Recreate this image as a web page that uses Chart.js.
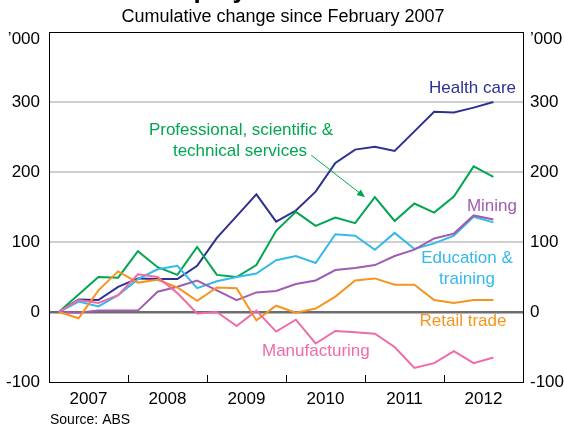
<!DOCTYPE html>
<html>
<head>
<meta charset="utf-8">
<script src="https://cdn.jsdelivr.net/npm/chart.js@4.4.0/dist/chart.umd.min.js"></script>
<style>
  html, body { margin: 0; padding: 0; background: #fff; }
  #wrap { width: 564px; height: 430px; position: relative; }
</style>
</head>
<body>
<div id="wrap"><canvas id="chart"></canvas></div>
<script>
// quarterly observations, Feb 2007 - Aug 2012 ('000, change since Feb 2007)
const dates = [
    'Feb-07', 'May-07', 'Aug-07', 'Nov-07',
    'Feb-08', 'May-08', 'Aug-08', 'Nov-08',
    'Feb-09', 'May-09', 'Aug-09', 'Nov-09',
    'Feb-10', 'May-10', 'Aug-10', 'Nov-10',
    'Feb-11', 'May-11', 'Aug-11', 'Nov-11',
    'Feb-12', 'May-12', 'Aug-12',
];
const years = [2007, 2008, 2009, 2010, 2011, 2012];
const yTicks = [-100, 0, 100, 200, 300];

const healthCare = [0, 18, 17, 36, 48, 47, 47, 66, 106, 137, 168, 129, 145, 172, 213, 232, 236, 230, 258, 286, 285, 292, 300];
const professional = [0, 25, 50, 49, 87, 64, 53, 93, 53, 50, 67, 116, 143, 123, 135, 127, 164, 130, 155, 142, 165, 208, 193];
const mining = [0, -1, 2, 2, 2, 29, 36, 45, 31, 17, 28, 30, 40, 45, 60, 63, 67, 80, 89, 105, 112, 138, 132];
const education = [0, 15, 8, 24, 47, 61, 66, 34, 44, 50, 55, 74, 80, 70, 111, 109, 89, 113, 90, 98, 109, 136, 128];
const retail = [0, -9, 31, 58, 42, 46, 35, 16, 35, 34, -12, 9, -1, 5, 22, 45, 48, 39, 39, 17, 13, 17, 17];
const manufacturing = [0, 17, 13, 24, 54, 50, 27, -2, 0, -20, 2, -28, -11, -45, -27, -29, -31, -50, -80, -73, -56, -73, -65];

const months = ['Jan', 'Feb', 'Mar', 'Apr', 'May', 'Jun', 'Jul', 'Aug', 'Sep', 'Oct', 'Nov', 'Dec'];
function toYear(label) {
    const [m, y] = label.split('-');
    return 2000 + Number(y) + (months.indexOf(m) + 0.5) / 12;
}
const xs = dates.map(toYear);
const pts = arr => arr.map((v, i) => ({ x: xs[i], y: v }));

const FONT = '"Liberation Sans", Arial, sans-serif';
const colors = {
    health: '#2e3192',
    prof: '#00a651',
    mining: '#a05cb0',
    edu: '#33b9ea',
    retail: '#f7941d',
    manuf: '#f06aaa',
};

const annotations = {
    id: 'annotations',
    afterDraw(chart) {
        const ctx = chart.ctx;
        const x = chart.scales.x;
        const y = chart.scales.y;
        const area = chart.chartArea;
        ctx.save();

        // year tick marks on the bottom axis, pointing inward
        ctx.strokeStyle = '#000';
        ctx.lineWidth = 1;
        years.slice(1).forEach(yr => {
            const px = Math.round(x.getPixelForValue(yr)) + 0.5;
            ctx.beginPath();
            ctx.moveTo(px, area.bottom);
            ctx.lineTo(px, area.bottom - 7);
            ctx.stroke();
        });

        // title (cut off at the top) and subtitle
        ctx.fillStyle = '#000';
        ctx.textBaseline = 'alphabetic';
        ctx.textAlign = 'left';
        ctx.font = 'bold 26px ' + FONT;
        ctx.fillText('Employment Growth', 153, -2);
        ctx.textAlign = 'center';
        ctx.textBaseline = 'middle';
        ctx.font = '18px ' + FONT;
        ctx.fillText('Cumulative change since February 2007', 283, 17);

        ctx.font = '17px ' + FONT;
        ctx.textAlign = 'right';
        ctx.fillText('\u2019000', 40, 39);
        ctx.textAlign = 'left';
        ctx.fillText('\u2019000', 530, 39);

        ctx.font = '14px ' + FONT;
        ctx.fillText('Source: ABS', 50, 420);

        // series labels
        ctx.font = '17px ' + FONT;
        ctx.fillStyle = colors.health;
        ctx.textAlign = 'right';
        ctx.fillText('Health care', 516, 88);

        ctx.fillStyle = colors.prof;
        ctx.textAlign = 'center';
        ctx.fillText('Professional, scientific &', 241, 130);
        ctx.fillText('technical services', 240, 151);

        ctx.fillStyle = colors.mining;
        ctx.textAlign = 'right';
        ctx.fillText('Mining', 517, 206);

        ctx.fillStyle = colors.edu;
        ctx.textAlign = 'center';
        ctx.fillText('Education &', 467, 258);
        ctx.fillText('training', 467, 279);

        ctx.fillStyle = colors.retail;
        ctx.fillText('Retail trade', 463, 321);

        ctx.fillStyle = colors.manuf;
        ctx.textAlign = 'left';
        ctx.fillText('Manufacturing', 262, 351);

        // arrow from the professional services label to its line
        const x0 = x.getPixelForValue(2010.32), y0 = y.getPixelForValue(224);
        const x1 = x.getPixelForValue(2011.0), y1 = y.getPixelForValue(164);
        const ang = Math.atan2(y1 - y0, x1 - x0);
        ctx.strokeStyle = colors.prof;
        ctx.fillStyle = colors.prof;
        ctx.lineWidth = 1;
        ctx.beginPath();
        ctx.moveTo(x0, y0);
        ctx.lineTo(x1 - 6 * Math.cos(ang), y1 - 6 * Math.sin(ang));
        ctx.stroke();
        ctx.beginPath();
        ctx.moveTo(x1, y1);
        ctx.lineTo(x1 - 8 * Math.cos(ang) + 3.5 * Math.sin(ang), y1 - 8 * Math.sin(ang) - 3.5 * Math.cos(ang));
        ctx.lineTo(x1 - 8 * Math.cos(ang) - 3.5 * Math.sin(ang), y1 - 8 * Math.sin(ang) + 3.5 * Math.cos(ang));
        ctx.closePath();
        ctx.fill();

        ctx.restore();
    },
};

function series(data, color) {
    return {
        data: pts(data),
        borderColor: color,
        backgroundColor: color,
        borderWidth: 2,
        pointRadius: 0,
        tension: 0,
    };
}

new Chart(document.getElementById('chart'), {
    type: 'line',
    data: {
        datasets: [
            series(manufacturing, colors.manuf),
            series(retail, colors.retail),
            series(mining, colors.mining),
            series(education, colors.edu),
            series(professional, colors.prof),
            series(healthCare, colors.health),
        ],
    },
    options: {
        responsive: true,
        maintainAspectRatio: false,
        animation: false,
        events: [],
        layout: { padding: { top: 32, left: 0, right: 0, bottom: 0 } },
        plugins: {
            legend: { display: false },
            tooltip: { enabled: false },
        },
        scales: {
            x: {
                type: 'linear',
                min: 2007,
                max: 2013,
                afterBuildTicks: scale => {
                    scale.ticks = years.map(yr => ({ value: yr + 0.5 }));
                },
                afterFit: scale => { scale.height = 48; },
                ticks: {
                    callback: v => String(Math.floor(v)),
                    color: '#000',
                    font: { family: FONT, size: 17 },
                    padding: 7,
                    maxRotation: 0,
                    autoSkip: false,
                },
                grid: { display: false, drawTicks: false },
                border: { display: true, color: '#000', width: 1 },
            },
            y: {
                position: 'left',
                min: -100,
                max: 400,
                afterBuildTicks: scale => {
                    scale.ticks = yTicks.concat([400]).map(v => ({ value: v }));
                },
                afterFit: scale => { scale.width = 49; },
                ticks: {
                    callback: v => (v === 400 ? '' : String(v)),
                    color: '#000',
                    font: { family: FONT, size: 17 },
                    padding: 9,
                },
                grid: {
                    drawTicks: false,
                    color: c => {
                        const v = c.tick.value;
                        if (v === 0) return '#6d6d6d';
                        if (v === 400 || v === -100) return '#000';
                        return '#cfcfcf';
                    },
                    lineWidth: c => {
                        const v = c.tick.value;
                        if (v === 0) return 2.5;
                        if (v === 400 || v === -100) return 1;
                        return 2;
                    },
                },
                border: { display: true, color: '#000', width: 1 },
            },
            y2: {
                position: 'right',
                min: -100,
                max: 400,
                afterBuildTicks: scale => {
                    scale.ticks = yTicks.concat([400]).map(v => ({ value: v }));
                },
                afterFit: scale => { scale.width = 41; },
                ticks: {
                    callback: v => (v === 400 ? '' : String(v)),
                    color: '#000',
                    font: { family: FONT, size: 17 },
                    padding: 7,
                },
                grid: { drawOnChartArea: false, drawTicks: false },
                border: { display: true, color: '#000', width: 1 },
            },
        },
    },
    plugins: [annotations],
});
</script>
</body>
</html>
